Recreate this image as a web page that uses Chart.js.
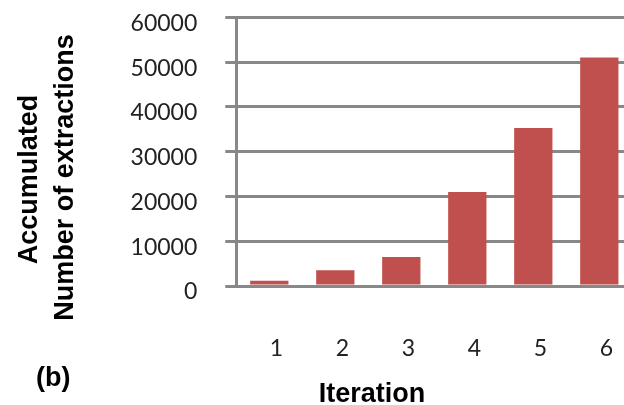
<!DOCTYPE html>
<html>
<head>
<meta charset="utf-8">
<script src="https://cdn.jsdelivr.net/npm/chart.js@4/dist/chart.umd.min.js"></script>
<style>
  html, body { margin: 0; padding: 0; background: #fff; overflow: hidden; width: 624px; height: 405px; }
  canvas { position: absolute; left: 0; top: 0; }
</style>
</head>
<body>
<canvas id="c" width="640" height="405"></canvas>
<script>
// Accumulated number of extractions after each iteration
const iterations = ['1', '2', '3', '4', '5', '6'];
const extractions = [1200, 3500, 6500, 21000, 35300, 51000];
const yTickLabels = ['0', '10000', '20000', '30000', '40000', '50000', '60000'];
const yTitleLines = ['Accumulated', 'Number of extractions'];
const xTitle = 'Iteration';
const panelTag = '(b)';

const GRID = '#888888';
const BAR = '#C0504D';
const TICK_FONT = { family: 'Lato', size: 23 };
const TITLE_FONT = 'bold 27px "Liberation Sans", Arial, sans-serif';

// Axis titles and the panel tag, placed freely around the plot
const axisTitles = {
  id: 'axisTitles',
  afterDraw(chart) {
    const ctx = chart.ctx;
    ctx.save();
    ctx.fillStyle = '#000';
    ctx.font = TITLE_FONT;
    ctx.textBaseline = 'alphabetic';
    ctx.textAlign = 'center';
    const spots = [[37, 179.5], [73.3, 177.5]];
    yTitleLines.forEach((line, i) => {
      ctx.save();
      ctx.translate(spots[i][0], spots[i][1]);
      ctx.rotate(-Math.PI / 2);
      ctx.fillText(line, 0, 0);
      ctx.restore();
    });
    ctx.fillText(xTitle, 372, 401.5);
    ctx.textAlign = 'left';
    ctx.fillText(panelTag, 36, 385.5);
    ctx.restore();
  }
};

// keep the plot area fixed: no extra room reserved for end labels
function noEdgePadding(scale) {
  scale.paddingTop = 0;
  scale.paddingBottom = 0;
  scale.paddingLeft = 0;
  scale.paddingRight = 0;
}

new Chart(document.getElementById('c'), {
  type: 'bar',
  data: {
    labels: iterations,
    datasets: [{
      data: extractions,
      backgroundColor: BAR,
      borderWidth: 0,
      barPercentage: 0.58,
      categoryPercentage: 1
    }]
  },
  options: {
    responsive: false,
    animation: false,
    devicePixelRatio: 1,
    layout: { padding: { left: 0, right: 7.7, top: 17.3, bottom: 0 } },
    plugins: { legend: { display: false }, tooltip: { enabled: false } },
    scales: {
      x: {
        grid: { display: false, drawTicks: false },
        border: { display: true, color: GRID, width: 3 },
        ticks: { font: TICK_FONT, color: '#222', padding: 49, labelOffset: 7 },
        afterFit(scale) { scale.height = 405 - 286; noEdgePadding(scale); }
      },
      y: {
        min: 0,
        max: 60000,
        grid: { color: GRID, lineWidth: 3, tickLength: 11, drawTicks: true },
        border: { display: true, color: GRID, width: 3 },
        ticks: {
          stepSize: 10000,
          font: TICK_FONT,
          color: '#222',
          padding: 28,
          labelOffset: 6,
          callback: (v, i) => yTickLabels[i]
        },
        afterFit(scale) { scale.width = 236.3; noEdgePadding(scale); }
      }
    }
  },
  plugins: [axisTitles]
});
</script>
</body>
</html>
